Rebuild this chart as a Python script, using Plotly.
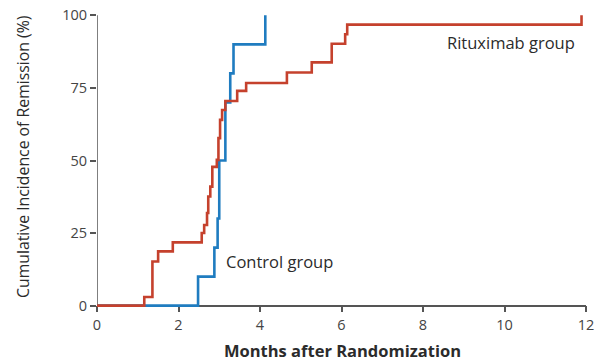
import plotly.graph_objects as go

# Data (months, cumulative incidence %)
control_months = [0, 2.48, 2.88, 2.96, 3.00, 3.15, 3.27, 3.35, 4.13]
control_pct = [0, 10, 20, 30, 50, 70, 80, 90, 100]

ritux_months = [0, 1.16, 1.36, 1.50, 1.86, 2.57, 2.63, 2.70, 2.73, 2.78, 2.83,
                2.94, 2.98, 3.02, 3.07, 3.15, 3.44, 3.66, 4.66, 5.27, 5.76,
                6.09, 6.14, 11.89]
ritux_pct = [0, 3, 15.2, 18.7, 21.8, 25, 27.8, 31.9, 37.6, 41, 47.8,
             50.2, 57.7, 64, 67.4, 70.5, 74, 76.7, 80.3, 83.8, 90.2,
             93.5, 96.8, 100]

x_ticks = [0, 2, 4, 6, 8, 10, 12]
y_ticks = [0, 25, 50, 75, 100]

RED = "#c5412d"
BLUE = "#1f7cc0"
AXIS = "#555555"
TXT = "#2b2b2b"
FONT = "Open Sans"

W, H = 599, 362
ML, MR, MT, MB = 97, 13, 11, 52
PW, PH = W - ML - MR, H - MT - MB


def px_to_paper(px, py):
    return (px - ML) / PW, (H - MB - py) / PH


fig = go.Figure()
fig.add_trace(go.Scatter(x=control_months, y=control_pct, mode="lines",
                         line=dict(color=BLUE, width=2.6, shape="hv"),
                         showlegend=False, hoverinfo="skip"))
fig.add_trace(go.Scatter(x=ritux_months, y=ritux_pct, mode="lines",
                         line=dict(color=RED, width=2.6, shape="hv"),
                         showlegend=False, hoverinfo="skip"))

ypad = 1.5
xt_x, xt_y = px_to_paper(342.5, 350)
yt_x, yt_y = px_to_paper(23, 157)

fig.update_layout(
    width=W, height=H,
    margin=dict(l=ML, r=MR, t=MT, b=MB),
    paper_bgcolor="white", plot_bgcolor="white",
    font=dict(family=FONT, color=TXT, size=14),
    xaxis=dict(range=[0, 12], tickvals=x_ticks, ticks="outside", ticklen=6,
               tickcolor=AXIS, tickwidth=1.5, showline=True, linecolor=AXIS,
               linewidth=1.5, showgrid=False, zeroline=False, layer="below traces",
               anchor="free", position=ypad / (100 + 2 * ypad), automargin=False,
               tickfont=dict(size=14.5, color="#444444")),
    yaxis=dict(range=[-ypad, 100 + ypad], tickvals=y_ticks, ticks="outside", ticklen=6,
               tickcolor=AXIS, tickwidth=1.5, showline=False, showgrid=False,
               zeroline=False, automargin=False,
               tickfont=dict(size=14.5, color="#444444")),
    shapes=[dict(type="line", xref="x", yref="y", x0=0, x1=0, y0=0, y1=100,
                 line=dict(color=AXIS, width=1.5), layer="below")],
    annotations=[
        dict(x=8.54, y=90.8, xref="x", yref="y", text="Rituximab group",
             showarrow=False, xanchor="left", yanchor="middle",
             font=dict(size=16.5, color=TXT)),
        dict(x=3.12, y=15.1, xref="x", yref="y", text="Control group",
             showarrow=False, xanchor="left", yanchor="middle",
             font=dict(size=16.5, color=TXT)),
        dict(x=xt_x, y=xt_y, xref="paper", yref="paper",
             text="<b>Months after Randomization</b>", showarrow=False,
             xanchor="center", yanchor="middle",
             font=dict(size=16.5, color=TXT)),
        dict(x=yt_x, y=yt_y, xref="paper", yref="paper",
             text="Cumulative Incidence of Remission (%)", showarrow=False,
             xanchor="center", yanchor="middle", textangle=-90,
             font=dict(size=15.8, color=TXT)),
    ],
)

fig.write_html("out.html")
